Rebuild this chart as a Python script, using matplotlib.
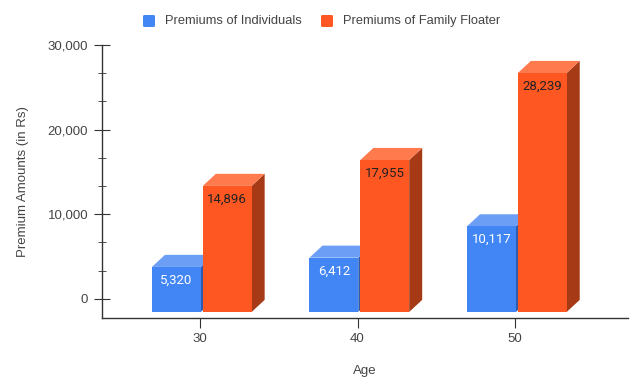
import matplotlib
matplotlib.use("Agg")
import matplotlib.pyplot as plt
from matplotlib.patches import Polygon, FancyBboxPatch
from matplotlib.ticker import MultipleLocator, FuncFormatter

ages = ["30", "40", "50"]
individuals = [5320, 6412, 10117]
family_floater = [14896, 17955, 28239]
series_names = ["Premiums of Individuals", "Premiums of Family Floater"]

plt.rcParams["font.family"] = ["Liberation Sans", "DejaVu Sans"]

fig = plt.figure(figsize=(6.4, 3.88), dpi=100)
ax = fig.add_axes([102 / 640, 70 / 388, 526 / 640, 273 / 388])
ax.set_xlim(-0.622, 2.717)
ax.set_ylim(-2262, 30000)

# pixel -> data scale for the fake 3D depth
px_x = 1 / 157.5
px_y = 10000 / 84
shift = 13 * px_y      # front faces sit below the axis plane
dx = 13 * px_x
dy = 12 * px_y
width = 0.31

styles = [
    dict(front="#4285F4", top="#6D9EF6", side="#2C5BB0", text="white", left=-0.305),
    dict(front="#FF5722", top="#FF7A4C", side="#A63A17", text="#222222", left=0.018),
]

for i, age in enumerate(ages):
    for vals, st in zip([individuals, family_floater], styles):
        v = vals[i]
        x0 = i + st["left"]
        x1 = x0 + width
        top = v - shift
        side = Polygon([(x1, -shift), (x1 + dx, -shift + dy), (x1 + dx, top + dy), (x1, top)],
                       closed=True, facecolor=st["side"], edgecolor="none", clip_on=False)
        ax.add_patch(side)
        cap = Polygon([(x0, top), (x0 + dx, top + dy), (x1 + dx, top + dy), (x1, top)],
                      closed=True, facecolor=st["top"], edgecolor="none", clip_on=False)
        ax.add_patch(cap)
        ax.bar(x0, v, width=width, bottom=-shift, align="edge", color=st["front"],
               linewidth=0, clip_on=False)
        ax.text(x0 + width / 2, top - 13 * px_y, "{:,}".format(v), ha="center", va="center",
                color=st["text"], fontsize=9.5, family=["Roboto", "DejaVu Sans"])

# Axes styling
for s in ["top", "right"]:
    ax.spines[s].set_visible(False)
for s in ["left", "bottom"]:
    ax.spines[s].set_color("#333333")
    ax.spines[s].set_linewidth(1)

ax.yaxis.set_major_locator(MultipleLocator(10000))
ax.yaxis.set_minor_locator(MultipleLocator(10000 / 3))
ax.yaxis.set_major_formatter(FuncFormatter(lambda v, p: "{:,}".format(int(v))))
ax.tick_params(axis="y", which="major", direction="inout", length=11, color="#333333",
               labelsize=9.5, labelcolor="#444444", pad=4.5)
ax.tick_params(axis="y", which="minor", direction="inout", length=6, color="#333333")

ax.set_xticks(range(len(ages)))
ax.set_xticklabels(ages)
ax.tick_params(axis="x", direction="out", length=7, color="#333333",
               labelsize=9.5, labelcolor="#444444", pad=4)

ax.set_ylabel("Premium Amounts (in Rs)", fontsize=9.5, color="#444444", labelpad=13)
ax.set_xlabel("Age", fontsize=9.5, color="#444444", labelpad=14.5)

# Legend with small rounded squares
leg_y = 1 - 21 / 388
entries = [(143, 165, styles[0]["front"], series_names[0]),
           (321, 343, styles[1]["front"], series_names[1])]
for sq_x, txt_x, col, name in entries:
    fig.patches.append(FancyBboxPatch((sq_x / 640, leg_y - 6 / 388), 12 / 640, 12 / 388,
                                      boxstyle="round,pad=0,rounding_size=0.003",
                                      transform=fig.transFigure, facecolor=col,
                                      edgecolor="none", figure=fig))
    fig.text(txt_x / 640, leg_y, name, ha="left", va="center", fontsize=9.3, color="#444444")

fig.savefig("out.png", dpi=100)
